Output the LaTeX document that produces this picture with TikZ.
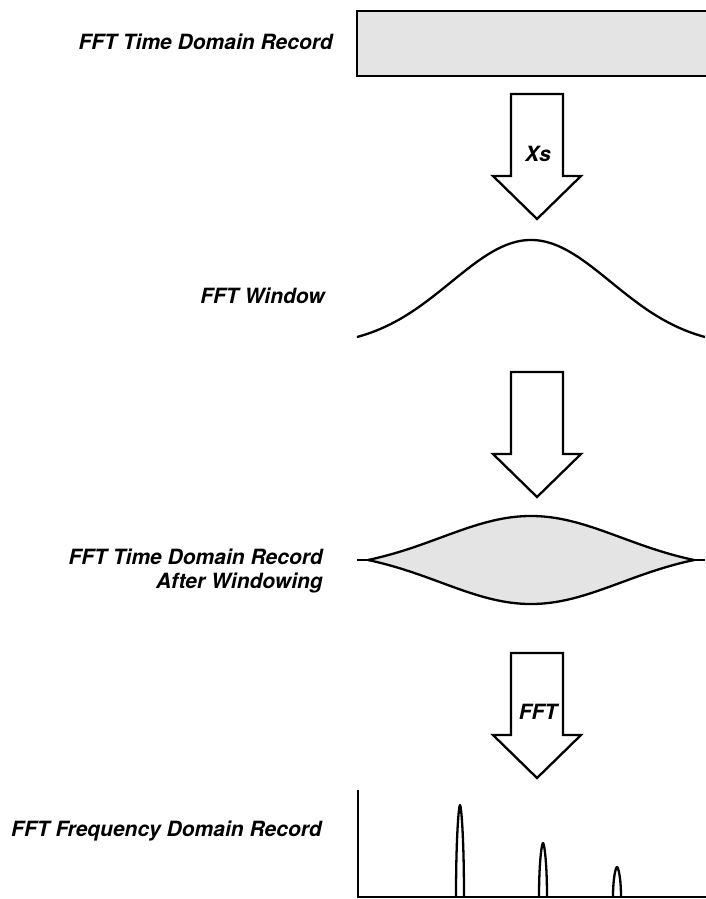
\documentclass[tikz,border=0pt]{standalone}
\usepackage{fontspec}
\setmainfont{TeX Gyre Heros}
\definecolor{boxgray}{RGB}{228,228,228}
\tikzset{
  lbl/.style={inner sep=0pt, font=\fontsize{21}{24}\selectfont\bfseries\itshape},
  thick2/.style={line width=2.3pt, line join=round},
  bigarrow/.pic={
    \draw[thick2, line join=miter, fill=white] (-26,0) -- (26,0) -- (26,82) -- (44,82) -- (0,125) -- (-44,82) -- (-26,82) -- cycle;
  },
  peak/.style={thick2},
}
\begin{document}
\begin{tikzpicture}[x=1pt,y=-1pt]
\useasboundingbox (0,0) rectangle (705,899);
% labels
\node[lbl, anchor=base east] (l1) at (333,49) {FFT Time Domain Record};
\node[lbl, anchor=base east] (l2) at (325,303) {FFT Window};
\node[lbl, anchor=east, align=right] (l3) at (323,571.5) {FFT Time Domain Record\\After Windowing};
\node[lbl, anchor=base east] (l4) at (322,836) {FFT Frequency Domain Record};
% time record box
\draw[thick2, line join=miter, fill=boxgray] (357,11) rectangle (707,76);
% arrows
\pic at (537,94) {bigarrow};
\node[lbl, anchor=base] (xs) at (538,161) {Xs};
\pic at (537,372) {bigarrow};
\pic at (537,653) {bigarrow};
\node[lbl, anchor=base] (fft) at (538,719) {FFT};
% window
\draw[thick2] plot[domain=357:705, samples=140, smooth] (\x, {337 - 97*(exp(-(((\x-531)/100)^2)/1.28)-0.094)/0.906});
% windowed record
\fill[boxgray] plot[domain=368:694, samples=120, smooth] (\x, {560 - 44*(exp(-(((\x-531)/100)^2)/1.62)-0.194)/0.806})
  -- plot[domain=368:694, samples=120, smooth] (1062-\x, {560 + 44*(exp(-(((\x-531)/100)^2)/1.62)-0.194)/0.806}) -- cycle;
\draw[thick2] plot[domain=368:694, samples=120, smooth] (\x, {560 - 44*(exp(-(((\x-531)/100)^2)/1.62)-0.194)/0.806});
\draw[thick2] plot[domain=368:694, samples=120, smooth] (\x, {560 + 44*(exp(-(((\x-531)/100)^2)/1.62)-0.194)/0.806});
\draw[thick2] (357,560) -- (369,560);
\draw[thick2] (693,560) -- (705,560);
% spectrum
\coordinate (ax0) at (358,790);
\coordinate (ax1) at (358,897);
\coordinate (ax2) at (706,897);
\draw[thick2, line join=miter] (ax0) -- (ax1) -- (ax2);
\foreach \px/\pt in {460/805, 543/843, 617/867}{
  \draw[peak] (\px-4,897) .. controls (\px-4,{\pt+0.35*(897-\pt)}) and (\px-1.2,\pt) .. (\px,\pt)
     .. controls (\px+1.2,\pt) and (\px+4,{\pt+0.35*(897-\pt)}) .. (\px+4,897);
}
\end{tikzpicture}
\end{document}
